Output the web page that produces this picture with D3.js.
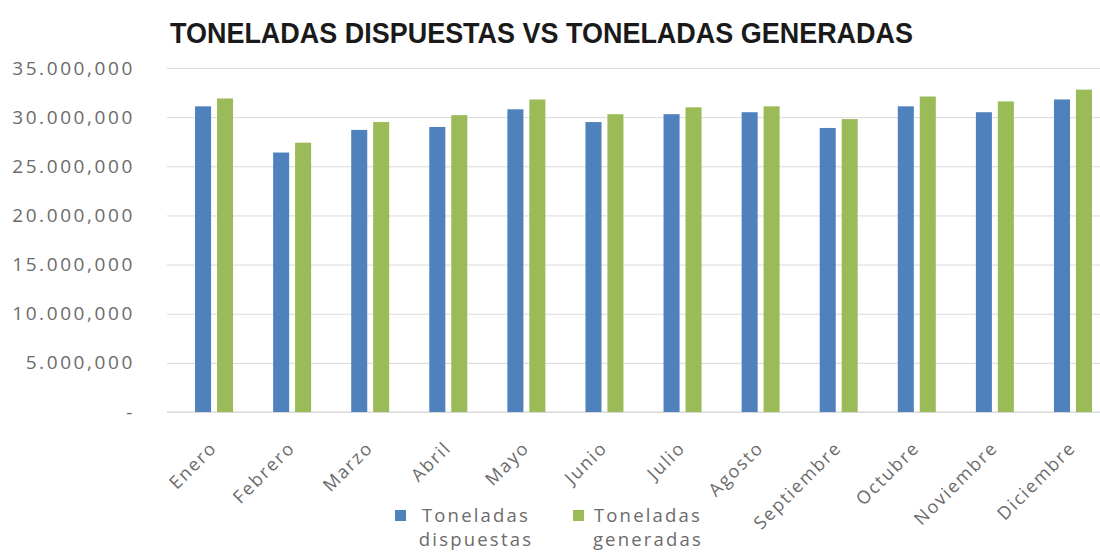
<!DOCTYPE html>
<html>
<head>
<meta charset="utf-8">
<script src="https://cdn.jsdelivr.net/npm/d3@7"></script>
<style>
  body { margin: 0; background: #fff; }
  text { font-family: "Open Sans", sans-serif; }
</style>
</head>
<body>
<div id="chart-area"></div>
<script>
// data
var months = ["Enero", "Febrero", "Marzo", "Abril", "Mayo", "Junio",
  "Julio", "Agosto", "Septiembre", "Octubre", "Noviembre", "Diciembre"];
var series = ["Toneladas dispuestas", "Toneladas generadas"];
var dispuestas = [31100000, 26400000, 28700000, 29000000, 30800000, 29500000,
  30300000, 30500000, 28900000, 31100000, 30500000, 31800000];
var generadas = [31900000, 27400000, 29500000, 30200000, 31800000, 30300000,
  31000000, 31100000, 29800000, 32100000, 31600000, 32800000];
var yTicks = [0, 5000000, 10000000, 15000000, 20000000, 25000000, 30000000, 35000000];
var colors = ["#4f81bd", "#9bbb59"];

var width = 1100, height = 560;

var svg = d3.select("#chart-area")
  .append("svg")
  .attr("width", width)
  .attr("height", height);

var x0 = d3.scaleBand()
  .domain(months)
  .range([175, 1112]);

var x1 = d3.scaleBand()
  .domain(series)
  .range([x0.bandwidth() / 2 - 19, x0.bandwidth() / 2 + 19])
  .paddingInner(0.27);

var y = d3.scaleLinear()
  .domain([0, 35000000])
  .range([412, 68]);

// "35.000,000" style labels, "-" for zero
function fmt(d) {
  if (d === 0) return "-";
  return d3.format(",")(d).replace(",", ".");
}

// gridlines + y labels
var yAxis = svg.append("g")
  .attr("transform", "translate(167,0)")
  .call(d3.axisLeft(y).tickValues(yTicks).tickFormat(fmt)
    .tickSize(-(width - 167)).tickPadding(32));
yAxis.select(".domain").remove();
yAxis.selectAll("line")
  .attr("stroke", "#d9d9d9");
yAxis.selectAll("text")
  .attr("fill", "#6b6b6b")
  .attr("font-size", "19px")
  .attr("letter-spacing", "2.6px");

// baseline
svg.append("line")
  .attr("x1", 167)
  .attr("x2", width)
  .attr("y1", y(0))
  .attr("y2", y(0))
  .attr("stroke", "#d9d9d9");

// bars
var rows = months.map(function(m, i) {
  return { month: m, values: [dispuestas[i], generadas[i]] };
});

var groups = svg.selectAll(".grp")
  .data(rows)
  .enter().append("g")
  .attr("class", "grp")
  .attr("transform", function(d) { return "translate(" + x0(d.month) + ",0)"; });

groups.selectAll("rect")
  .data(function(d) {
    return d.values.map(function(v, k) { return { key: series[k], value: v, k: k }; });
  })
  .enter().append("rect")
  .attr("x", function(d) { return x1(d.key); })
  .attr("y", function(d) { return y(d.value); })
  .attr("width", x1.bandwidth())
  .attr("height", function(d) { return y(0) - y(d.value); })
  .attr("fill", function(d) { return colors[d.k]; });

// month labels
svg.selectAll(".mlabel")
  .data(months)
  .enter().append("text")
  .attr("class", "mlabel")
  .attr("transform", function(d) {
    return "translate(" + (x0(d) + x0.bandwidth() / 2 + 4) + ",449) rotate(-45)";
  })
  .attr("text-anchor", "end")
  .attr("font-size", "18px")
  .attr("letter-spacing", "1.8px")
  .attr("fill", "#6b6b6b")
  .text(function(d) { return d; });

// title
svg.append("text")
  .attr("x", 170)
  .attr("y", 43)
  .style("font-family", "'Liberation Sans', Arial, sans-serif")
  .attr("font-size", "29px")
  .attr("font-weight", "bold")
  .attr("fill", "#1a1a1a")
  .attr("textLength", 743)
  .attr("lengthAdjust", "spacingAndGlyphs")
  .text("TONELADAS DISPUESTAS VS TONELADAS GENERADAS");

// legend
var legendX = [395, 573];
var legendMid = [476, 648];
var legend = svg.selectAll(".leg")
  .data(series)
  .enter().append("g")
  .attr("class", "leg");

legend.append("rect")
  .attr("x", function(d, i) { return legendX[i]; })
  .attr("y", 510)
  .attr("width", 11)
  .attr("height", 11)
  .attr("fill", function(d, i) { return colors[i]; });

var lt = legend.append("text")
  .attr("text-anchor", "middle")
  .attr("font-size", "18.5px")
  .attr("letter-spacing", "2.2px")
  .attr("fill", "#6b6b6b");

lt.append("tspan")
  .attr("x", function(d, i) { return legendMid[i]; })
  .attr("y", 522)
  .text(function(d) { return d.split(" ")[0]; });

lt.append("tspan")
  .attr("x", function(d, i) { return legendMid[i]; })
  .attr("y", 546)
  .text(function(d) { return d.split(" ")[1]; });
</script>
</body>
</html>
